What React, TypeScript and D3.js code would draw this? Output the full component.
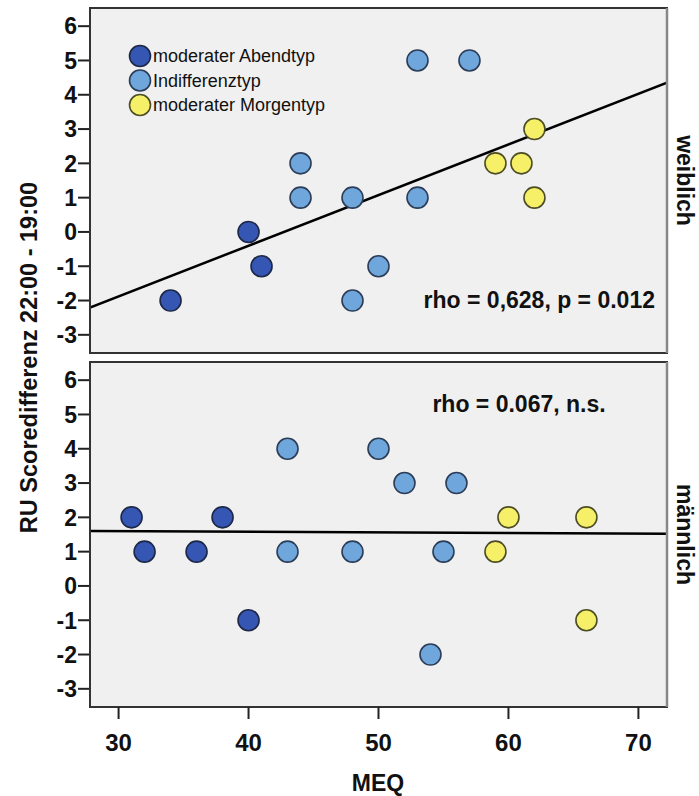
import React from "react";
import * as d3 from "d3";

// MEQ score and RU score difference, per panel
const meqFemale = [34, 40, 41, 44, 44, 48, 48, 50, 53, 53, 57, 59, 61, 62, 62];
const ruFemale = [-2, 0, -1, 2, 1, 1, -2, -1, 5, 1, 5, 2, 2, 3, 1];
const typeFemale = ["A", "A", "A", "I", "I", "I", "I", "I", "I", "I", "I", "M", "M", "M", "M"];

const meqMale = [31, 32, 36, 38, 40, 43, 43, 48, 50, 52, 54, 55, 56, 59, 60, 66, 66];
const ruMale = [2, 1, 1, 2, -1, 4, 1, 1, 4, 3, -2, 1, 3, 1, 2, 2, -1];
const typeMale = ["A", "A", "A", "A", "A", "I", "I", "I", "I", "I", "I", "I", "I", "M", "M", "M", "M"];

// fit lines: [intercept, slope]
const fitFemale = [-6.31, 0.1477];
const fitMale = [1.65, -0.0018];

const panelLabels = ["weiblich", "männlich"];
const rhoLabels = ["rho = 0,628, p = 0.012", "rho = 0.067, n.s."];

const legendKeys = ["A", "I", "M"];
const legendLabels = ["moderater Abendtyp", "Indifferenztyp", "moderater Morgentyp"];

const xTicks = [30, 40, 50, 60, 70];
const yTicks = [-3, -2, -1, 0, 1, 2, 3, 4, 5, 6];

const fills: Record<string, string> = { A: "#3556b2", I: "#6fa7dc", M: "#f6f068" };
const strokes: Record<string, string> = { A: "#1d2848", I: "#2c3d58", M: "#4d4d25" };

const W = 699;
const H = 796;
const left = 90;
const right = 667;
const panels = [
  { top: 8, bottom: 353 },
  { top: 362, bottom: 707 },
];

const font = "'Liberation Sans', Arial, sans-serif";

export default function App() {
  const x = d3.scaleLinear().domain([27.8, 72.2]).range([left, right]);
  const data = [
    { meq: meqFemale, ru: ruFemale, type: typeFemale, fit: fitFemale },
    { meq: meqMale, ru: ruMale, type: typeMale, fit: fitMale },
  ];

  return (
    <svg
      width={W}
      height={H}
      style={{ position: "absolute", left: 0, top: 0, background: "#fff" }}
      fontFamily={font}
    >
      {panels.map((p, pi) => {
        const y = d3.scaleLinear().domain([-3.53, 6.53]).range([p.bottom, p.top]);
        const d = data[pi];
        const [b0, b1] = d.fit;
        const [x0, x1] = x.domain();
        return (
          <g key={pi}>
            <clipPath id={`clip${pi}`}>
              <rect x={left} y={p.top} width={right - left} height={p.bottom - p.top} />
            </clipPath>
            <rect
              x={left}
              y={p.top}
              width={right - left}
              height={p.bottom - p.top}
              fill="#f0f0f0"
            />
            {yTicks.map((t) => (
              <g key={t}>
                <line x1={left - 12} x2={left} y1={y(t)} y2={y(t)} stroke="#222" strokeWidth={2} />
                <text
                  x={left - 13}
                  y={y(t)}
                  dy="0.36em"
                  textAnchor="end"
                  fontSize={23}
                  fontWeight="bold"
                  fill="#111"
                >
                  {t}
                </text>
              </g>
            ))}
            <g clipPath={`url(#clip${pi})`}>
              <line
                x1={x(x0)}
                x2={x(x1)}
                y1={y(b0 + b1 * x0)}
                y2={y(b0 + b1 * x1)}
                stroke="#000"
                strokeWidth={2.5}
              />
            </g>
            {d.meq.map((m, i) => (
              <circle
                key={i}
                cx={x(m)}
                cy={y(d.ru[i])}
                r={10.5}
                fill={fills[d.type[i]]}
                stroke={strokes[d.type[i]]}
                strokeWidth={1.6}
              />
            ))}
            <rect
              x={left}
              y={p.top}
              width={right - left}
              height={p.bottom - p.top}
              fill="none"
              stroke="#333"
              strokeWidth={2}
            />
            <line x1={right} x2={right} y1={p.top} y2={p.bottom} stroke="#888" strokeWidth={2.5} />
            <text
              transform={`translate(${right + 10},${(p.top + p.bottom) / 2}) rotate(90)`}
              textAnchor="middle"
              fontSize={23}
              fontWeight="bold"
              fill="#111"
            >
              {panelLabels[pi]}
            </text>
          </g>
        );
      })}

      {/* correlation annotations */}
      <text x={655} y={300} dy="0.36em" textAnchor="end" fontSize={23} fontWeight="bold" fill="#111">
        {rhoLabels[0]}
      </text>
      <text x={519} y={404} dy="0.36em" textAnchor="middle" fontSize={23} fontWeight="bold" fill="#111">
        {rhoLabels[1]}
      </text>

      {/* legend */}
      {legendKeys.map((k, i) => (
        <g key={k} transform={`translate(140,${56 + i * 24.5})`}>
          <circle r={10.5} fill={fills[k]} stroke={strokes[k]} strokeWidth={1.6} />
          <text x={13} dy="0.36em" fontSize={18} fill="#111">
            {legendLabels[i]}
          </text>
        </g>
      ))}

      {/* x axis */}
      {xTicks.map((t) => (
        <g key={t}>
          <line x1={x(t)} x2={x(t)} y1={707} y2={719} stroke="#222" strokeWidth={2} />
          <text x={x(t)} y={742} dy="0.36em" textAnchor="middle" fontSize={24} fontWeight="bold" fill="#111">
            {t}
          </text>
        </g>
      ))}
      <text x={378} y={783} dy="0.36em" textAnchor="middle" fontSize={23} fontWeight="bold" fill="#111">
        MEQ
      </text>
      <text
        transform={`translate(29,${(panels[0].top + panels[1].bottom) / 2}) rotate(-90)`}
        dy="0.36em"
        textAnchor="middle"
        fontSize={23.5}
        fontWeight="bold"
        fill="#111"
      >
        RU Scoredifferenz 22:00 - 19:00
      </text>
    </svg>
  );
}
